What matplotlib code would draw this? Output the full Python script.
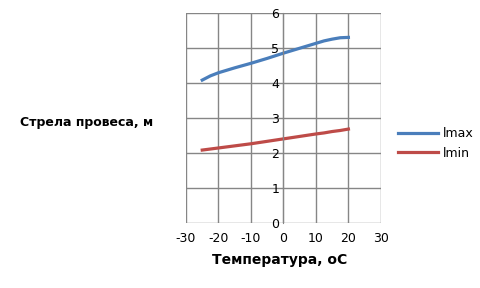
import matplotlib
matplotlib.use('Agg')
import matplotlib.pyplot as plt

plt.rcParams['axes.unicode_minus'] = False

# температура и стрела провеса
temps = [-25, -22.5, -20, -15, -10, -5, 0, 5, 10, 12.5, 15, 17.5, 20]
lmax = [4.09, 4.21, 4.30, 4.44, 4.57, 4.71, 4.86, 5.00, 5.14, 5.21, 5.26, 5.30, 5.31]
lmin = [2.09, 2.12, 2.15, 2.21, 2.27, 2.34, 2.41, 2.48, 2.55, 2.58, 2.62, 2.65, 2.69]
xticks = [-30, -20, -10, 0, 10, 20, 30]
yticks = [0, 1, 2, 3, 4, 5, 6]

fig = plt.figure(figsize=(4.8, 2.88), dpi=100)
ax = fig.add_axes([0.3875, 0.225, 0.406, 0.729])

ax.plot(temps, lmax, color='#4a7ebb', lw=2.3, label='lmax')
ax.plot(temps, lmin, color='#be4b48', lw=2.3, label='lmin')

ax.set_xlim(-30, 30)
ax.set_ylim(0, 6)
ax.set_xticks(xticks)
ax.set_yticks(yticks)
ax.grid(True, color='#868686', lw=1)
ax.set_axisbelow(True)

for s in ['top', 'right', 'bottom']:
    ax.spines[s].set_visible(False)
ax.spines['left'].set_position(('data', 0))
ax.spines['left'].set_color('#868686')
ax.tick_params(length=0, labelsize=9, colors='black')
ax.tick_params(axis='x', pad=6)
ax.tick_params(axis='y', pad=3)

fig.text(0.042, 0.573, 'Стрела провеса, м', fontsize=9, fontweight='bold',
         va='center', ha='left')
fig.text(0.583, 0.097, 'Температура, оС', fontsize=10, fontweight='bold',
         va='center', ha='center')

ax.legend(loc='center left', bbox_to_anchor=(1.03, 0.38), frameon=False,
          fontsize=9, handlelength=3.2, handletextpad=0.4, labelspacing=0.5)

fig.savefig('out.png', dpi=100)
